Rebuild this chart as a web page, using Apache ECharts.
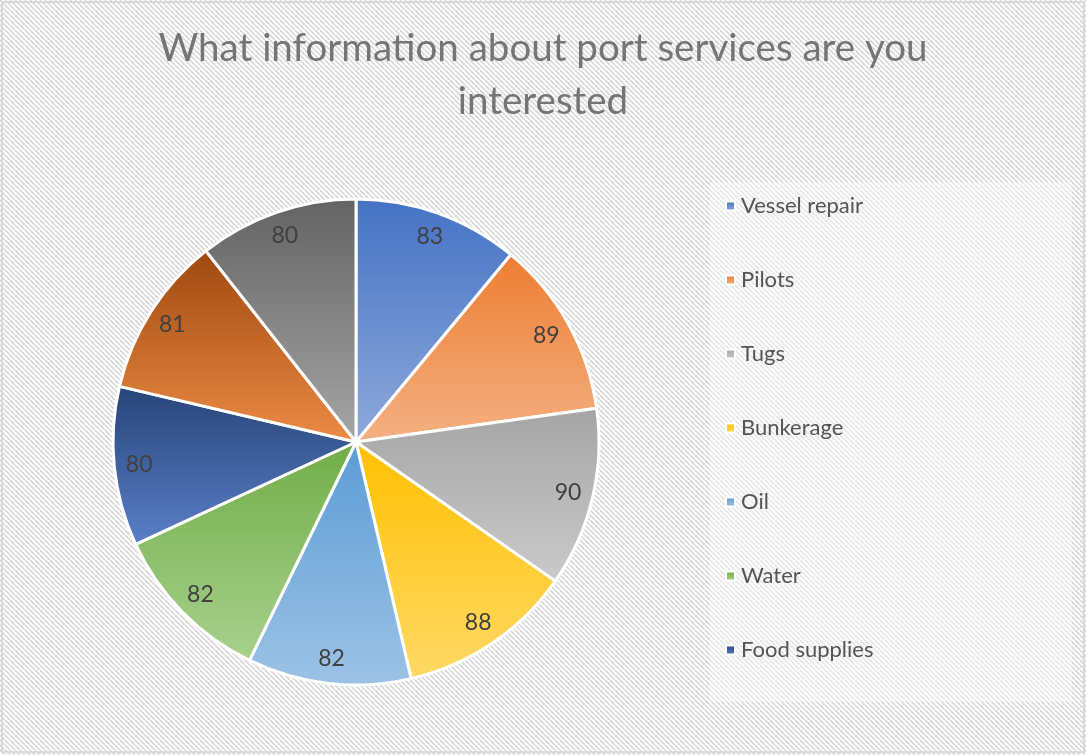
<!DOCTYPE html>
<html>
<head>
<meta charset="utf-8">
<script src="https://cdn.jsdelivr.net/npm/echarts@6/dist/echarts.min.js"></script>
<style>
  html, body { margin: 0; padding: 0; background: #ffffff; }
  #chart { width: 1086px; height: 755px; }
</style>
</head>
<body>
<div id="chart"></div>
<script>
// Port services survey: number of respondents interested in each topic
const categories = ['Vessel repair', 'Pilots', 'Tugs', 'Bunkerage', 'Oil', 'Water', 'Food supplies', 'Other 1', 'Other 2'];
const values = [83, 89, 90, 88, 82, 82, 80, 81, 80];
// Only the first seven categories fit in the legend box
const legendCategories = categories.slice(0, 7);

// Slice fills: vertical gradients, top colour -> bottom colour
const topColors = ['#4472C4', '#ED7D31', '#A5A5A5', '#FFC000', '#5B9BD5', '#70AD47', '#264478', '#9E480E', '#636363'];
const bottomColors = ['#8EA9DB', '#F4B183', '#CACACA', '#FFD966', '#9DC3E6', '#A9D18E', '#5B7FC9', '#ED8B46', '#A6A6A6'];

const FONT = 'Lato, "Open Sans", sans-serif';

// Diagonal hatch tile for the chart background
function hatchTile(size, lineColor, lineWidth) {
  const c = document.createElement('canvas');
  c.width = size; c.height = size;
  const ctx = c.getContext('2d');
  ctx.fillStyle = '#ffffff';
  ctx.fillRect(0, 0, size, size);
  ctx.strokeStyle = lineColor;
  ctx.lineWidth = lineWidth;
  for (const off of [-size, 0, size]) {
    ctx.beginPath();
    ctx.moveTo(off, 0);
    ctx.lineTo(off + size, size);
    ctx.stroke();
  }
  return c;
}

const chart = echarts.init(document.getElementById('chart'), null, { renderer: 'canvas' });

const pieData = categories.map((name, i) => ({
  name,
  value: values[i],
  itemStyle: {
    color: new echarts.graphic.LinearGradient(0, 0, 0, 1, [
      { offset: 0, color: topColors[i] },
      { offset: 1, color: bottomColors[i] }
    ])
  }
}));

const CENTER = [356, 442];
const R = 243;

chart.setOption({
  animation: false,
  backgroundColor: { image: hatchTile(5, '#d9d9d9', 1.9), repeat: 'repeat' },
  title: {
    text: 'What information about port services are you\ninterested',
    left: 'center',
    top: 17,
    padding: [5, 0, 5, 6],
    textStyle: {
      fontFamily: FONT,
      fontSize: 38.5,
      fontWeight: 'normal',
      color: '#757575',
      lineHeight: 53
    }
  },
  graphic: [
    {
      type: 'rect',
      z: -1,
      shape: { x: 710, y: 182, width: 362, height: 520 },
      style: { fill: 'rgba(255,255,255,0.4)' },
      silent: true
    },
    {
      type: 'rect',
      z: 10,
      shape: { x: 2, y: 2, width: 1082, height: 750 },
      style: { fill: 'none', stroke: '#d9d9d9', lineWidth: 2 },
      silent: true
    }
  ],
  legend: {
    data: legendCategories,
    orient: 'vertical',
    left: 720,
    top: 190,
    icon: 'rect',
    itemWidth: 9,
    itemHeight: 9,
    itemGap: 52,
    selectedMode: false,
    textStyle: {
      fontFamily: FONT,
      fontSize: 22,
      lineHeight: 22,
      color: '#555555',
      padding: [0, 0, 0, 1]
    }
  },
  series: [
    {
      type: 'pie',
      center: CENTER,
      radius: [0, R],
      startAngle: 90,
      clockwise: true,
      silent: true,
      itemStyle: { borderColor: '#ffffff', borderWidth: 3 },
      label: { show: false },
      labelLine: { show: false },
      emphasis: { disabled: true },
      data: pieData
    },
    {
      // transparent ring that carries the value labels near the outer edge
      type: 'pie',
      center: CENTER,
      radius: [187, R],
      startAngle: 90,
      clockwise: true,
      silent: true,
      itemStyle: { color: 'rgba(0,0,0,0)', borderWidth: 0 },
      label: {
        show: true,
        position: 'inside',
        formatter: '{c}',
        fontFamily: FONT,
        fontSize: 23,
        color: '#404040'
      },
      labelLine: { show: false },
      emphasis: { disabled: true },
      data: categories.map((name, i) => ({ name, value: values[i] }))
    }
  ]
});
</script>
</body>
</html>
